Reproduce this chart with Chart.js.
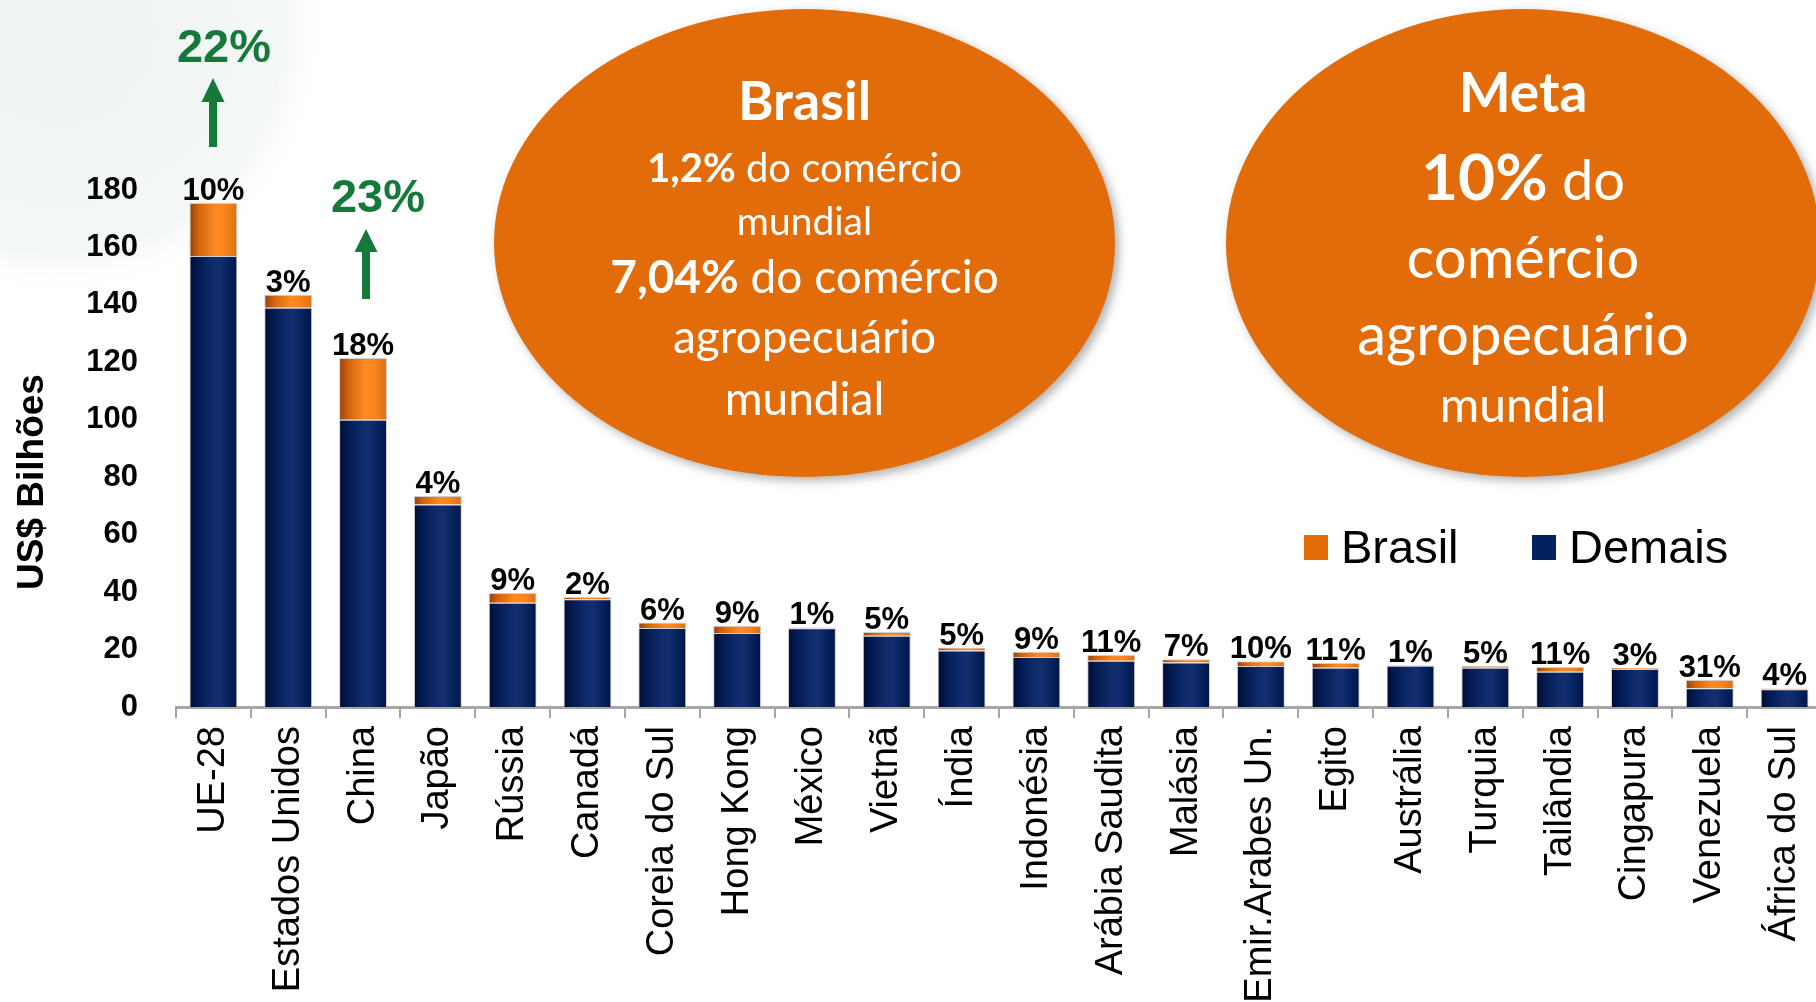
<!DOCTYPE html>
<html>
<head>
<meta charset="utf-8">
<script src="https://cdn.jsdelivr.net/npm/chart.js@4.4.1/dist/chart.umd.min.js"></script>
<style>
  html, body { margin: 0; padding: 0; background: #ffffff; overflow: hidden; width: 1816px; height: 1002px; }
  #wrap { position: absolute; left: 0; top: 0; width: 1850px; height: 1002px; }
</style>
</head>
<body>
<div id="wrap"><canvas id="c" width="1850" height="1002"></canvas></div>
<script>
// ---------------- data ----------------
const categories = ['UE-28', 'Estados Unidos', 'China', 'Japão', 'Rússia', 'Canadá', 'Coreia do Sul',
  'Hong Kong', 'México', 'Vietnã', 'Índia', 'Indonésia', 'Arábia Saudita', 'Malásia',
  'Emir.Arabes Un.', 'Egito', 'Austrália', 'Turquia', 'Tailândia', 'Cingapura', 'Venezuela', 'África do Sul'];
const demais = [157, 139, 100, 70.5, 36.3, 37.5, 27.5, 25.8, 27.4, 24.8, 19.7, 17.4, 16.1, 15.5,
  14.3, 13.7, 14.4, 13.7, 12.3, 13.2, 6.5, 6.2];
const brasil = [18.5, 4.5, 21.5, 3, 3.4, 0.8, 1.9, 2.5, 0.3, 1.3, 1.0, 1.8, 2.0, 1.1,
  1.6, 1.6, 0.15, 0.7, 1.6, 0.4, 2.9, 0.27];
const shareLabels = ['10%', '3%', '18%', '4%', '9%', '2%', '6%', '9%', '1%', '5%', '5%', '9%', '11%', '7%',
  '10%', '11%', '1%', '5%', '11%', '3%', '31%', '4%'];
const yMin = 0, yMax = 180, yStep = 20;
const seriesNames = ['Brasil', 'Demais'];
const yTitle = 'US$ Bilhões';
const growthLabels = ['22%', '23%'];   // UE-28, China

// ---------------- style ----------------
const ORANGE = '#E36C0A';
const NAVY = '#002060';
const GREEN = '#15793a';
const blueStops = [[0, '#000a33'], [0.18, '#031b52'], [0.5, '#0f2c6c'], [0.62, '#132f70'], [0.85, '#03205a'], [1, '#001548']];
const orangeStops = [[0, '#93400a'], [0.2, '#d2650f'], [0.55, '#ff8a22'], [0.72, '#fb8620'], [1, '#db7015']];

// pick a condensed face for category labels if present
function pickLabelFont() {
  const c = document.createElement('canvas').getContext('2d');
  c.font = '100px "Liberation Sans"';
  const ref = c.measureText('Estados Unidos').width;
  const cands = ['Liberation Sans Narrow', 'Arial Narrow', 'DejaVu Sans Condensed'];
  for (const f of cands) {
    c.font = '100px "' + f + '", "Liberation Sans"';
    const w = c.measureText('Estados Unidos').width;
    if (w < ref * 0.9) return { family: '"' + f + '"', size: Math.round(263 / (w / 100)) };
  }
  return { family: '"Liberation Sans", Arial', size: Math.round(263 / (ref / 100)) };
}
const labelFont = pickLabelFont();

function grad(ctx, stops) {
  const chart = ctx.chart;
  const xs = chart.scales && chart.scales.x;
  if (!xs || !chart.chartArea || ctx.dataIndex === undefined) return stops[2][1];
  const cx = xs.getPixelForValue(ctx.dataIndex);
  const w = (xs.width / categories.length) * 0.64;
  if (!isFinite(cx) || !isFinite(w) || w <= 0) return stops[2][1];
  const g = chart.ctx.createLinearGradient(cx - w / 2, 0, cx + w / 2, 0);
  stops.forEach(s => g.addColorStop(s[0], s[1]));
  return g;
}

function drawRuns(ctx, runs, cx, y) {
  let total = 0;
  runs.forEach(r => { ctx.font = r.f; r.w = ctx.measureText(r.t).width; total += r.w; });
  let x = cx - total / 2;
  ctx.textAlign = 'left';
  ctx.textBaseline = 'alphabetic';
  runs.forEach(r => { ctx.font = r.f; ctx.fillText(r.t, x, y); x += r.w; });
}

function drawBlob(ctx, cx, cy, rx, ry) {
  ctx.save();
  ctx.shadowColor = 'rgba(0,0,0,0.30)';
  ctx.shadowBlur = 10;
  ctx.shadowOffsetX = 4;
  ctx.shadowOffsetY = 4;
  ctx.fillStyle = ORANGE;
  ctx.beginPath();
  ctx.ellipse(cx, cy, rx, ry, 0, 0, Math.PI * 2);
  ctx.fill();
  ctx.restore();
}

function arrow(ctx, cx, top, headBase, bottom, headHalf, shaftHalf) {
  ctx.beginPath();
  ctx.moveTo(cx, top);
  ctx.lineTo(cx + headHalf, headBase);
  ctx.lineTo(cx + shaftHalf, headBase);
  ctx.lineTo(cx + shaftHalf, bottom);
  ctx.lineTo(cx - shaftHalf, bottom);
  ctx.lineTo(cx - shaftHalf, headBase);
  ctx.lineTo(cx - headHalf, headBase);
  ctx.closePath();
  ctx.fill();
}

const decor = {
  id: 'decor',
  beforeDraw(chart) {
    const ctx = chart.ctx;
    ctx.save();
    // faint background swoosh top-left
    const rg = ctx.createRadialGradient(60, 30, 30, 60, 30, 270);
    rg.addColorStop(0, 'rgba(236,243,240,0.9)');
    rg.addColorStop(0.8, 'rgba(241,246,244,0.8)');
    rg.addColorStop(1, 'rgba(255,255,255,0)');
    ctx.fillStyle = rg;
    ctx.beginPath();
    ctx.arc(60, 30, 270, 0, Math.PI * 2);
    ctx.fill();

    drawBlob(ctx, 804.5, 243, 310.5, 234);
    drawBlob(ctx, 1523, 243, 297, 234);

    ctx.fillStyle = '#ffffff';
    const L = '"Lato", "Open Sans", sans-serif';
    drawRuns(ctx, [{ t: 'Brasil', f: 'bold 54px ' + L }], 804.5, 120);
    drawRuns(ctx, [{ t: '1,2%', f: 'bold 40px ' + L }, { t: ' do comércio', f: '40px ' + L }], 804.5, 182);
    drawRuns(ctx, [{ t: 'mundial', f: '39px ' + L }], 804.5, 235);
    drawRuns(ctx, [{ t: '7,04%', f: 'bold 46px ' + L }, { t: ' do comércio', f: '46px ' + L }], 804.5, 293);
    drawRuns(ctx, [{ t: 'agropecuário', f: '46px ' + L }], 804.5, 353);
    drawRuns(ctx, [{ t: 'mundial', f: '46px ' + L }], 804.5, 415);

    drawRuns(ctx, [{ t: 'Meta', f: 'bold 55px ' + L }], 1523, 112);
    drawRuns(ctx, [{ t: '10%', f: 'bold 64px ' + L }, { t: ' do', f: '56px ' + L }], 1523, 200);
    drawRuns(ctx, [{ t: 'comércio', f: '58px ' + L }], 1523, 278);
    drawRuns(ctx, [{ t: 'agropecuário', f: '58px ' + L }], 1523, 355);
    drawRuns(ctx, [{ t: 'mundial', f: '48px ' + L }], 1523, 422);
    ctx.restore();
  },
  afterDatasetsDraw(chart) {
    const ctx = chart.ctx;
    const meta = chart.getDatasetMeta(1);
    ctx.save();
    ctx.fillStyle = '#000';
    ctx.font = 'bold 31px "Liberation Sans", Arial, sans-serif';
    ctx.textAlign = 'center';
    ctx.textBaseline = 'alphabetic';
    meta.data.forEach((bar, i) => { ctx.fillText(shareLabels[i], bar.x, bar.y - 3); });
    ctx.restore();
  },
  afterDraw(chart) {
    const ctx = chart.ctx;
    ctx.save();
    // y-axis title
    ctx.translate(43, 482);
    ctx.rotate(-Math.PI / 2);
    ctx.fillStyle = '#000';
    ctx.font = 'bold 37px "Liberation Sans", Arial, sans-serif';
    ctx.textAlign = 'center';
    ctx.textBaseline = 'alphabetic';
    ctx.fillText(yTitle, 0, 0);
    ctx.restore();

    // legend
    ctx.save();
    const legendColors = [ORANGE, NAVY];
    const sq = [1304, 1532];
    ctx.font = '47px "Liberation Sans", Arial, sans-serif';
    ctx.textAlign = 'left';
    ctx.textBaseline = 'alphabetic';
    seriesNames.forEach((n, i) => {
      ctx.fillStyle = legendColors[i];
      ctx.fillRect(sq[i], 535, 24, 25);
      ctx.fillStyle = '#000';
      ctx.fillText(n, sq[i] + 37, 563);
    });
    ctx.restore();

    // growth annotations
    ctx.save();
    ctx.fillStyle = GREEN;
    ctx.font = 'bold 47px "Liberation Sans", Arial, sans-serif';
    ctx.textAlign = 'center';
    ctx.textBaseline = 'alphabetic';
    ctx.fillText(growthLabels[0], 224, 62);
    ctx.fillText(growthLabels[1], 378, 212);
    arrow(ctx, 213, 78, 102, 147, 11.5, 4);
    arrow(ctx, 366, 229, 252, 299, 11.5, 4);
    ctx.restore();
  }
};

new Chart(document.getElementById('c'), {
  type: 'bar',
  data: {
    labels: categories,
    datasets: [
      {
        label: 'Demais', data: demais,
        backgroundColor: ctx => grad(ctx, blueStops),
        borderColor: 'rgba(195,195,195,0.8)', borderWidth: 1, borderSkipped: 'bottom',
        barPercentage: 0.64, categoryPercentage: 1.0
      },
      {
        label: 'Brasil', data: brasil,
        backgroundColor: ctx => grad(ctx, orangeStops),
        borderColor: 'rgba(195,195,195,0.8)', borderWidth: 1, borderSkipped: 'bottom',
        barPercentage: 0.64, categoryPercentage: 1.0
      }
    ]
  },
  options: {
    responsive: false,
    animation: false,
    layout: { padding: { top: 190, left: 0, right: 28, bottom: 0 } },
    plugins: { legend: { display: false }, tooltip: { enabled: false }, title: { display: false } },
    scales: {
      x: {
        stacked: true,
        offset: true,
        grid: { display: true, drawOnChartArea: false, drawTicks: true, tickLength: 11, color: '#a6a6a6', lineWidth: 2, offset: true },
        border: { display: true, color: '#a6a6a6', width: 3 },
        ticks: {
          autoSkip: false, maxRotation: 90, minRotation: 90, padding: 8, color: '#000',
          font: { family: labelFont.family, size: labelFont.size }
        },
        afterFit: s => { s.height = 295; }
      },
      y: {
        stacked: true, min: yMin, max: yMax,
        grid: { display: false, drawTicks: false },
        border: { display: false },
        ticks: { stepSize: yStep, color: '#000', padding: 38, font: { family: '"Liberation Sans", Arial', weight: 'bold', size: 31 } },
        afterFit: s => { s.width = 176; }
      }
    }
  },
  plugins: [decor]
});
</script>
</body>
</html>
